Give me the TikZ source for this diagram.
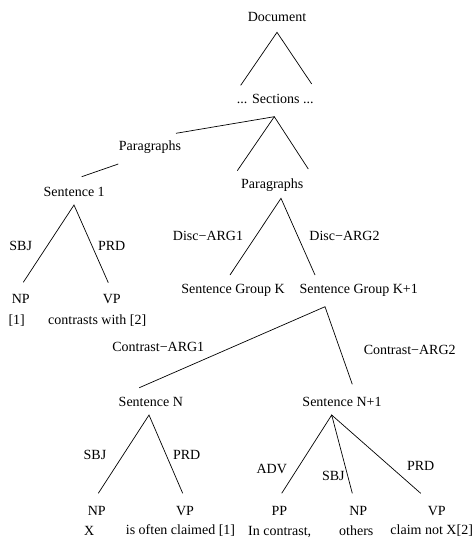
\documentclass[tikz,border=0pt]{standalone}
\usepackage{fontspec}
\setmainfont{Liberation Serif}
\begin{document}
\begin{tikzpicture}[x=1pt,y=-1pt,
  lbl/.style={anchor=base,inner sep=0pt,font=\fontsize{14}{16}\selectfont},
  edge/.style={line width=0.7pt}]
\useasboundingbox (0,0) rectangle (474,539);
% text nodes
\node[lbl] (doc)  at (277,21)    {Document};
\node[lbl] (sec)  at (275.3,103) {... Sections ...};
\node[lbl] (parL) at (150,150.5) {Paragraphs};
\node[lbl] (s1)   at (74.2,196)  {Sentence 1};
\node[lbl] (parR) at (272.3,188.5) {Paragraphs};
\node[lbl] (sbj1) at (20.7,250)  {SBJ};
\node[lbl] (prd1) at (111.7,250) {PRD};
\node[lbl] (np1)  at (20.7,303)  {NP};
\node[lbl] (vp1)  at (111.7,303) {VP};
\node[lbl] (w1)   at (16.7,324)  {[1]};
\node[lbl] (w2)   at (97.2,324)  {contrasts with [2]};
\node[lbl] (dA1)  at (208,240)   {Disc−ARG1};
\node[lbl] (dA2)  at (344.5,240) {Disc−ARG2};
\node[lbl] (sgk)  at (233,293)   {Sentence Group K};
\node[lbl] (sgk1) at (358.7,293) {Sentence Group K+1};
\node[lbl] (cA1)  at (158.3,351.5) {Contrast−ARG1};
\node[lbl] (cA2)  at (409.7,354) {Contrast−ARG2};
\node[lbl] (sN)   at (150.8,406) {Sentence N};
\node[lbl] (sN1)  at (342,406)   {Sentence N+1};
\node[lbl] (sbjN) at (95,459)    {SBJ};
\node[lbl] (prdN) at (186.7,459) {PRD};
\node[lbl] (npN)  at (96.7,515)  {NP};
\node[lbl] (vpN)  at (185,515)   {VP};
\node[lbl] (wX)   at (89.3,535)  {X};
\node[lbl] (wclaim) at (180.5,534) {is often claimed [1]};
\node[lbl] (adv)  at (271.7,473) {ADV};
\node[lbl] (sbjN1) at (333.3,480) {SBJ};
\node[lbl] (prdN1) at (420.7,470.5) {PRD};
\node[lbl] (pp)   at (279.3,515) {PP};
\node[lbl] (npN1) at (358.3,515) {NP};
\node[lbl] (vpN1) at (436.7,515) {VP};
\node[lbl] (wcon) at (279.7,535) {In contrast,};
\node[lbl] (woth) at (356.3,535) {others};
\node[lbl] (wnot) at (431.7,534) {claim not X[2]};
% connector points
\coordinate (docA) at (277,32.3);
\coordinate (docL) at (240.7,85.3);
\coordinate (docR) at (311.7,84);
\coordinate (secA) at (274.3,116.7);
\coordinate (secP) at (176,133.3);
\coordinate (secL) at (237.3,170.7);
\coordinate (secR) at (308.3,169);
\coordinate (parLa) at (118.3,164);
\coordinate (s1top) at (81.7,176.7);
\coordinate (s1A) at (74,205);
\coordinate (np1t) at (23.3,282.3);
\coordinate (vp1t) at (108.3,282.7);
\coordinate (parRA) at (281,198.3);
\coordinate (sgkt) at (230,275);
\coordinate (sgk1t) at (315,275);
\coordinate (sgk1A) at (325,306.7);
\coordinate (sNt) at (139.3,387.7);
\coordinate (sN1t) at (352.3,384.3);
\coordinate (sNA) at (149,415);
\coordinate (npNt) at (98.3,493.3);
\coordinate (vpNt) at (182.7,493.3);
\coordinate (sN1A) at (331.7,415);
\coordinate (ppt) at (281.7,493.3);
\coordinate (npN1t) at (352.3,493.3);
\coordinate (vpN1t) at (420.7,493.3);
% connectors
\draw[edge] (docL) -- (docA) -- (docR);
\draw[edge] (secP) -- (secA);
\draw[edge] (secL) -- (secA) -- (secR);
\draw[edge] (parLa) -- (s1top);
\draw[edge] (np1t) -- (s1A) -- (vp1t);
\draw[edge] (sgkt) -- (parRA) -- (sgk1t);
\draw[edge] (sNt) -- (sgk1A) -- (sN1t);
\draw[edge] (npNt) -- (sNA) -- (vpNt);
\draw[edge] (ppt) -- (sN1A) -- (npN1t);
\draw[edge] (sN1A) -- (vpN1t);
\end{tikzpicture}
\end{document}
